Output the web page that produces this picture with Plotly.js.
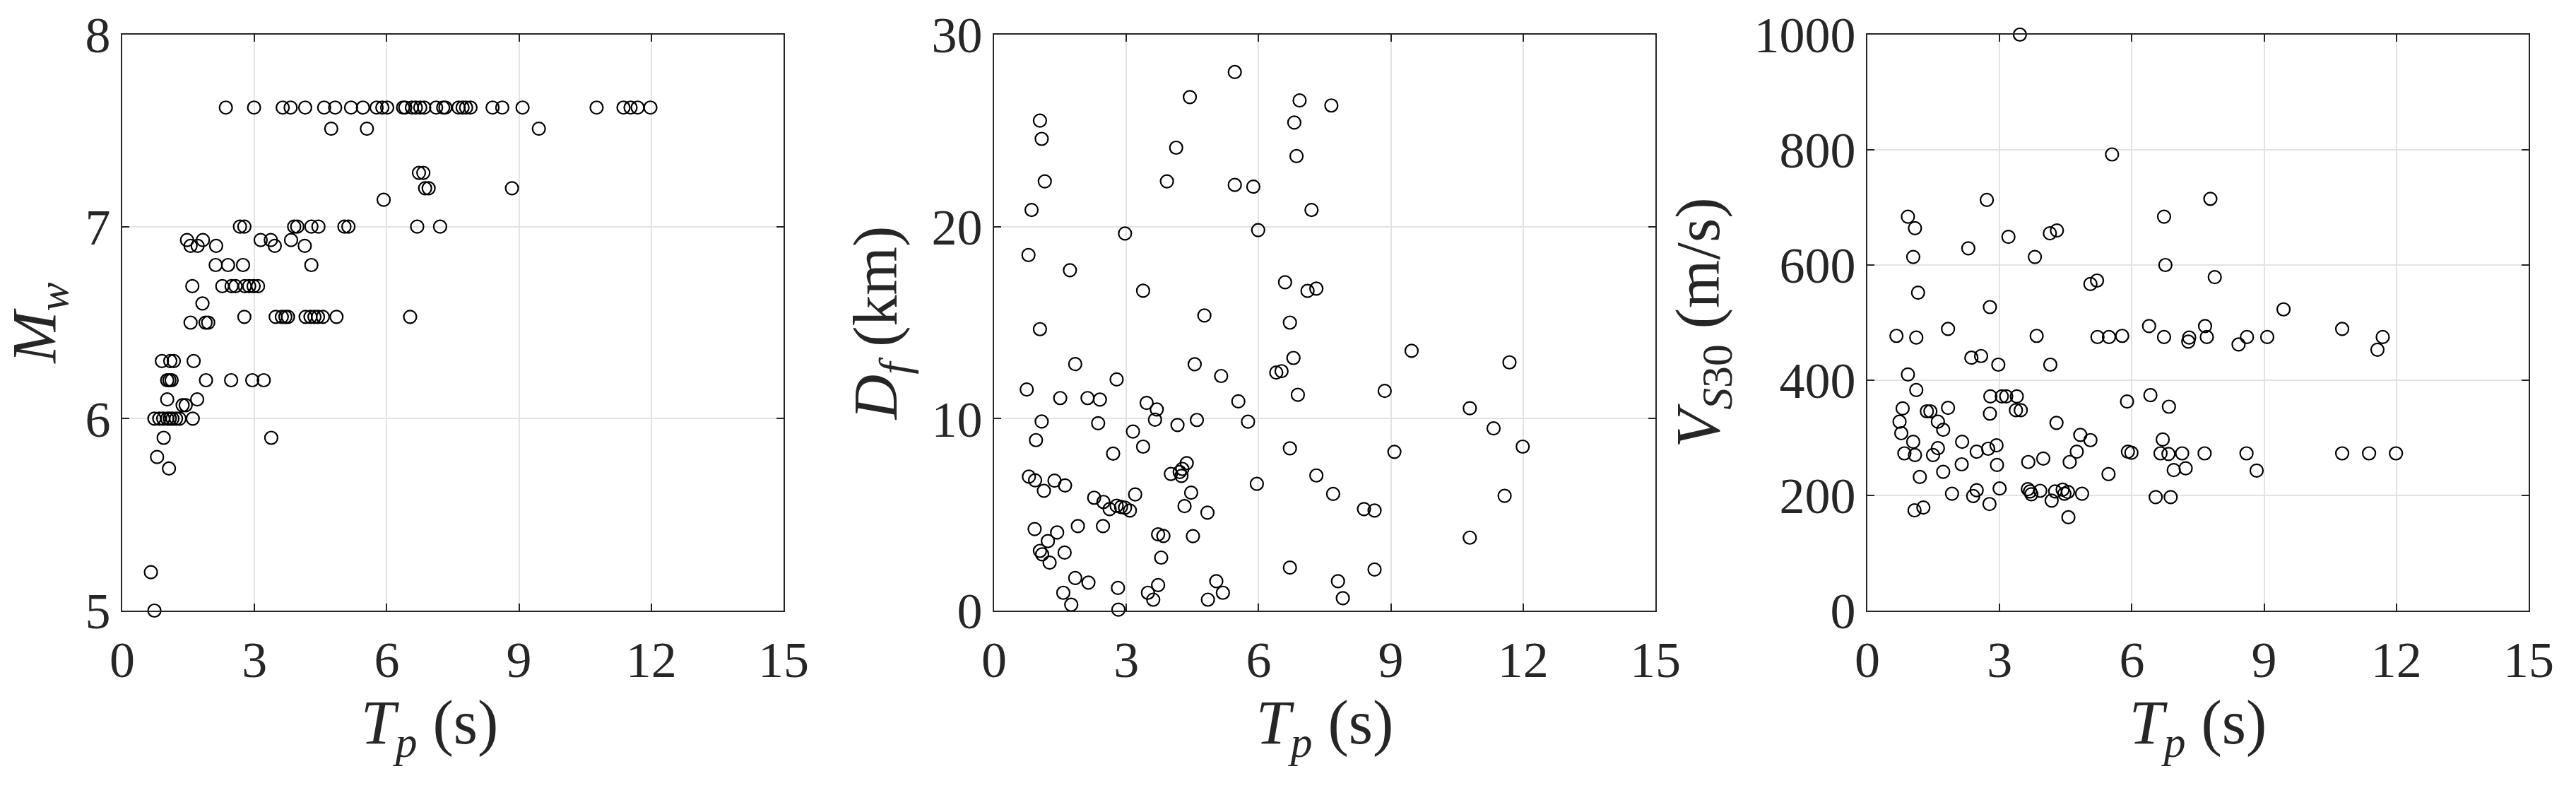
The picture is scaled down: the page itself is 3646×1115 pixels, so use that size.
<!DOCTYPE html>
<html>
<head>
<meta charset="utf-8">
<script src="https://cdn.plot.ly/plotly-3.0.1.min.js"></script>
<style>
  body { margin: 0; background: #fff; }
  #plotArea { width: 3646px; height: 1115px; }
</style>
</head>
<body>
<div id="plotArea"></div>
<script>
// pulse period Tp (s) vs Mw
var tp1 = [2.35, 2.99, 3.64, 3.82, 4.15, 4.58, 4.83, 5.19, 5.46, 5.77, 5.90, 6.01, 6.37, 6.42, 6.57, 6.66, 6.76, 6.85, 7.12, 7.28, 7.33, 7.63, 7.72, 7.80, 7.90, 8.40, 8.62, 9.08, 10.76, 11.37, 11.53, 11.69, 11.98,
    4.74, 5.55, 9.45,
    6.73, 6.83,
    6.87, 6.95, 8.84,
    5.93,
    2.67, 2.77, 3.90, 3.97, 4.29, 4.45, 5.04, 5.13, 6.69, 7.21,
    1.47, 1.83, 3.14, 3.37, 3.83,
    1.55, 1.71, 2.13, 3.46, 4.14,
    2.12, 2.40, 2.74, 4.29,
    1.59, 2.27, 2.48, 2.57, 2.78, 2.88, 2.98, 3.08,
    1.82,
    2.77, 3.48, 3.62, 3.70, 3.76, 4.16, 4.27, 4.36, 4.44, 4.55, 4.86, 6.53,
    1.55, 1.89, 1.95,
    0.90, 1.09, 1.17, 1.62,
    1.02, 1.07, 1.12, 1.90, 2.47, 2.95, 3.21,
    1.02, 1.70,
    1.37, 1.44,
    0.73, 0.84, 0.93, 1.02, 1.08, 1.14, 1.22, 1.30, 1.60,
    0.94, 3.38,
    0.79, 1.06, 0.65, 0.73];
var mw = [7.62, 7.62, 7.62, 7.62, 7.62, 7.62, 7.62, 7.62, 7.62, 7.62, 7.62, 7.62, 7.62, 7.62, 7.62, 7.62, 7.62, 7.62, 7.62, 7.62, 7.62, 7.62, 7.62, 7.62, 7.62, 7.62, 7.62, 7.62, 7.62, 7.62, 7.62, 7.62, 7.62,
    7.51, 7.51, 7.51,
    7.28, 7.28,
    7.20, 7.20, 7.20,
    7.14,
    7.00, 7.00, 7.00, 7.00, 7.00, 7.00, 7.00, 7.00, 7.00, 7.00,
    6.93, 6.93, 6.93, 6.93, 6.93,
    6.90, 6.90, 6.90, 6.90, 6.90,
    6.80, 6.80, 6.80, 6.80,
    6.69, 6.69, 6.69, 6.69, 6.69, 6.69, 6.69, 6.69,
    6.60,
    6.53, 6.53, 6.53, 6.53, 6.53, 6.53, 6.53, 6.53, 6.53, 6.53, 6.53, 6.53,
    6.50, 6.50, 6.50,
    6.30, 6.30, 6.30, 6.30,
    6.20, 6.20, 6.20, 6.20, 6.20, 6.20, 6.20,
    6.10, 6.10,
    6.07, 6.07,
    6.00, 6.00, 6.00, 6.00, 6.00, 6.00, 6.00, 6.00, 6.00,
    5.90, 5.90,
    5.80, 5.74, 5.20, 5.00];

// Tp vs fault distance Df (km)
var tp2 = [5.46, 4.44, 6.93, 7.65, 1.04, 6.81, 1.08, 4.13, 6.86, 1.15, 3.92, 5.46, 5.88, 0.85, 7.20, 2.97, 5.99, 0.78, 1.72, 3.38,
    6.60, 7.11, 7.31, 4.77, 6.71, 1.04, 9.47, 4.55, 1.84, 6.79, 11.69, 6.40, 6.52, 5.15, 2.78, 0.74, 8.86, 1.50, 2.12, 2.40,
    6.89, 3.46, 5.54, 3.69, 10.79, 1.08, 2.36, 3.65, 4.60, 4.16, 5.76, 11.33, 0.95, 3.15, 3.38, 6.71, 11.99, 2.70, 9.08, 4.37,
    4.27, 4.21, 4.01, 4.25, 0.79, 0.93, 1.37, 1.13, 1.61, 7.31, 5.96, 4.47, 7.69, 11.58, 3.20, 2.27, 2.48, 2.62, 2.78, 2.88,
    2.97, 3.08, 4.32, 4.84, 8.39, 8.63, 2.47, 1.90, 0.92, 1.43, 3.72, 3.84, 4.51, 10.79, 1.22, 1.04, 1.09, 1.60, 3.79, 1.26,
    6.71, 8.63, 1.84, 2.14, 2.81, 3.72, 5.04, 7.80, 1.57, 3.49, 5.19, 1.75, 3.61, 4.85, 7.91, 2.82];
var df = [28.05, 26.75, 26.57, 26.31, 25.52, 25.42, 24.57, 24.11, 23.67, 22.36, 22.36, 22.17, 22.08, 20.87, 20.87, 19.64, 19.82, 18.52, 17.73, 16.66,
    17.10, 16.65, 16.77, 15.37, 15.00, 14.66, 13.53, 12.83, 12.84, 13.16, 12.93, 12.40, 12.47, 12.22, 12.04, 11.52, 11.44, 11.07, 11.07, 10.99,
    11.24, 10.82, 10.90, 10.48, 10.54, 9.85, 9.76, 9.94, 9.93, 9.67, 9.84, 9.49, 8.88, 9.33, 8.54, 8.45, 8.54, 8.18, 8.27, 7.68,
    7.38, 7.22, 7.12, 7.02, 6.98, 6.79, 6.77, 6.24, 6.52, 7.04, 6.60, 6.14, 6.08, 5.98, 6.05, 5.88, 5.66, 5.29, 5.46, 5.40,
    5.36, 5.21, 5.44, 5.10, 5.29, 5.21, 4.40, 4.40, 4.25, 4.07, 3.97, 3.89, 3.88, 3.80, 3.62, 3.11, 2.93, 3.02, 2.76, 2.50,
    2.24, 2.14, 1.70, 1.46, 1.18, 1.33, 1.53, 1.53, 0.93, 0.93, 0.93, 0.31, 0.57, 0.57, 0.65, 0.05];

// Tp vs Vs30 (m/s)
var tp3 = [3.46, 5.55, 2.71, 7.78, 0.92, 6.73, 1.08, 3.20, 4.14, 4.30, 2.29, 1.04, 3.80, 6.76, 7.88, 5.06, 5.21, 1.15, 2.78, 9.44,
    10.77, 0.66, 1.11, 1.83, 3.84, 5.22, 5.48, 5.78, 6.39, 6.73, 7.30, 7.28, 7.66, 7.70, 8.42, 8.61, 9.07, 11.69, 11.57, 2.36,
    2.58, 2.97, 4.15, 0.92, 1.11, 2.79, 3.05, 3.15, 3.39, 0.80, 1.35, 1.43, 1.83, 2.78, 3.37, 3.48, 0.73, 1.60, 1.72, 0.77,
    4.29, 5.89, 6.42, 6.84, 1.04, 2.15, 4.83, 5.06, 0.84, 1.08, 1.49, 1.60, 2.48, 2.74, 2.93, 3.65, 3.99, 4.59, 4.75, 5.47,
    5.91, 5.99, 6.70, 6.65, 6.83, 7.14, 7.65, 8.60, 10.77, 11.38, 11.99, 6.95, 7.22, 8.83, 1.19, 1.72, 2.14, 2.94, 1.92, 2.40,
    2.48, 2.77, 3.00, 3.64, 3.69, 3.72, 3.92, 4.26, 4.43, 4.47, 4.55, 4.18, 4.87, 4.56, 1.07, 1.27, 6.54, 6.88];
var vs30 = [1000, 792, 713, 715, 684, 684, 664, 649, 655, 660, 629, 614, 614, 600, 579, 567, 573, 552, 527, 523,
    489, 477, 474, 489, 477, 475, 475, 477, 494, 475, 474, 467, 494, 475, 462, 475, 475, 475, 453, 439,
    442, 427, 427, 410, 383, 372, 372, 372, 372, 351, 346, 346, 352, 342, 348, 348, 328, 328, 314, 308,
    326, 363, 374, 354, 293, 293, 305, 296, 273, 270, 270, 282, 276, 281, 287, 258, 264, 258, 276, 237,
    276, 274, 297, 273, 272, 273, 273, 273, 273, 273, 273, 244, 247, 243, 232, 241, 254, 253, 203, 199,
    209, 185, 212, 211, 207, 202, 208, 207, 210, 203, 206, 191, 203, 162, 174, 179, 197, 197];

var ink = "#262626";
var serif = "Liberation Serif, Times New Roman, serif";

function marks(x, y, xa, ya) {
    return {
        x: x, y: y, xaxis: xa, yaxis: ya,
        type: "scatter", mode: "markers",
        cliponaxis: false,
        marker: {symbol: "circle-open", size: 18, color: "#000", line: {width: 2.2, color: "#000"}},
        showlegend: false, hoverinfo: "x+y"
    };
}

function axis(domain, range, dtick, titleText, anchor, standoff, labelOff) {
    return {
        domain: domain, range: range, anchor: anchor,
        tick0: range[0], dtick: dtick,
        ticks: "inside", ticklen: 10, tickwidth: 2, tickcolor: ink,
        ticklabelstandoff: labelOff,
        showline: true, linecolor: ink, linewidth: 2, mirror: "ticks",
        showgrid: true, gridcolor: "#e3e3e3", gridwidth: 2,
        zeroline: false,
        tickfont: {family: serif, size: 72, color: ink},
        title: {text: titleText, font: {family: serif, size: 88, color: ink}, standoff: standoff},
        fixedrange: true
    };
}

// MATLAB placed the first x label a little left of centre
var xTitle1 = "<i>T</i><sub><i>p</i></sub> (s)&nbsp;&nbsp;&nbsp;";
var xTitle = "<i>T</i><sub><i>p</i></sub> (s)";

var data = [
    marks(tp1, mw, "x", "y"),
    marks(tp2, df, "x2", "y2"),
    marks(tp3, vs30, "x3", "y3")
];

var layout = {
    width: 3646, height: 1115,
    margin: {l: 173, r: 67, t: 49, b: 251},
    paper_bgcolor: "#fff", plot_bgcolor: "#fff",
    font: {family: serif, color: ink},
    xaxis: axis([0, 0.274809], [0, 15], 3, xTitle1, "y", 10, 6),
    yaxis: axis([0, 1], [5, 8], 1, "<i>M</i><sub><i>w</i></sub>", "x", 20, 0),
    xaxis2: axis([0.362302, 0.637111], [0, 15], 3, xTitle, "y2", 10, 6),
    yaxis2: axis([0, 1], [0, 30], 10, "<i>D</i><sub><i>f</i></sub> (km)", "x2", 20, 0),
    xaxis3: axis([0.725191, 1], [0, 15], 3, xTitle, "y3", 10, 6),
    yaxis3: axis([0, 1], [0, 1000], 200, "<i>V</i><sub><i>S</i>30</sub> (m/s)", "x3", 20, 0)
};

Plotly.newPlot("plotArea", data, layout, {displayModeBar: false, staticPlot: true});
</script>
</body>
</html>
